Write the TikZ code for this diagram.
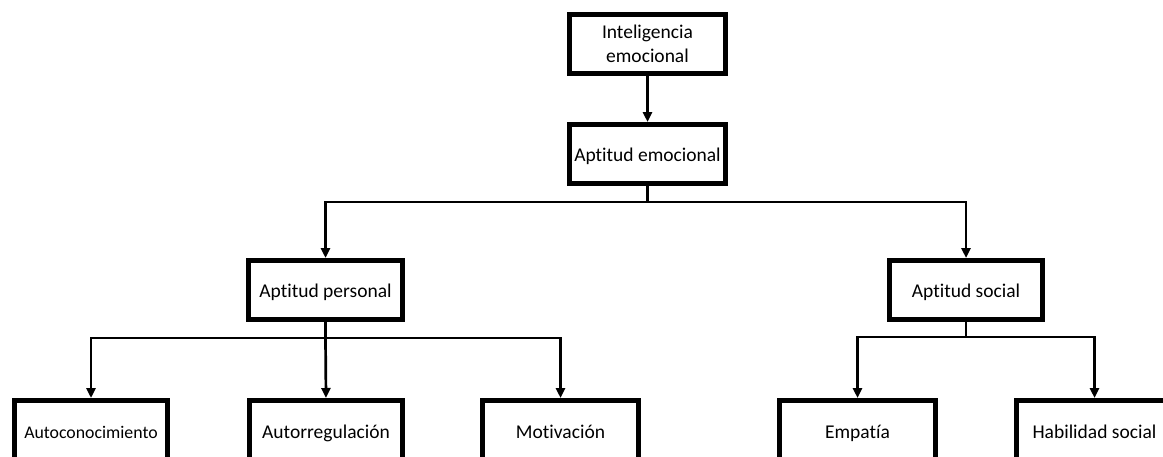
\documentclass[tikz,border=0pt]{standalone}
\usepackage{fontspec}
\setmainfont{Carlito}[Ligatures=NoCommon]
\usetikzlibrary{arrows.meta}
\tikzset{
  box/.style={draw, line width=5pt, fill=white, align=center, inner sep=0pt,
    font=\fontsize{19.5}{24}\selectfont},
  oneline/.style={text height=14pt, text depth=0pt},
  conn/.style={line width=2.7pt, line join=miter},
  tip/.style={-{Triangle[length=10pt,width=9pt]}}
}
\begin{document}
\begin{tikzpicture}[x=1pt,y=-1pt]
  \useasboundingbox (0,0) rectangle (1163,456);
  \clip (0,0) rectangle (1163,456);

  % top levels
  \node[box, minimum width=156pt, minimum height=59pt] (ie) at (647.5,44) {Inteligencia\\emocional};
  \node[box, oneline, minimum width=156pt, minimum height=59pt] (ae) at (647.5,154) {Aptitud emocional};
  \node[box, oneline, minimum width=154pt, minimum height=59pt] (ap) at (325.5,290) {Aptitud personal};
  \node[box, oneline, minimum width=153pt, minimum height=59pt] (as) at (966,290) {Aptitud social};

  % bottom level (boxes continue below the page edge)
  \node[box, oneline, minimum width=153pt, minimum height=61pt, font=\fontsize{17.8}{21}\selectfont] (ac) at (91,431) {Autoconocimiento};
  \node[box, oneline, minimum width=153pt, minimum height=61pt] (ar) at (326,431) {Autorregulación};
  \node[box, oneline, minimum width=156pt, minimum height=61pt] (mo) at (560.5,431) {Motivación};
  \node[box, oneline, minimum width=156pt, minimum height=61pt] (em) at (857.5,431) {Empatía};
  \node[box, oneline, minimum width=156pt, minimum height=61pt] (hs) at (1094.5,431) {Habilidad social};

  % junction points
  \coordinate (j1) at (647.5,202);
  \coordinate (j2) at (325.5,338);
  \coordinate (j3) at (966,337);

  % connectors
  \draw[conn, tip] (ie.south) -- (ae.north);
  \draw[conn] (ae.south) -- (j1);
  \draw[conn, tip] (j1) -| (ap.north);
  \draw[conn, tip] (j1) -| (as.north);

  \draw[conn] (ap.south) -- (j2);
  \draw[conn, tip] (j2) -| (ac.north);
  \draw[conn, tip] (j2) -- (ar.north);
  \draw[conn, tip] (j2) -| (mo.north);

  \draw[conn] (as.south) -- (j3);
  \draw[conn, tip] (j3) -| (em.north);
  \draw[conn, tip] (j3) -| (hs.north);
\end{tikzpicture}
\end{document}
